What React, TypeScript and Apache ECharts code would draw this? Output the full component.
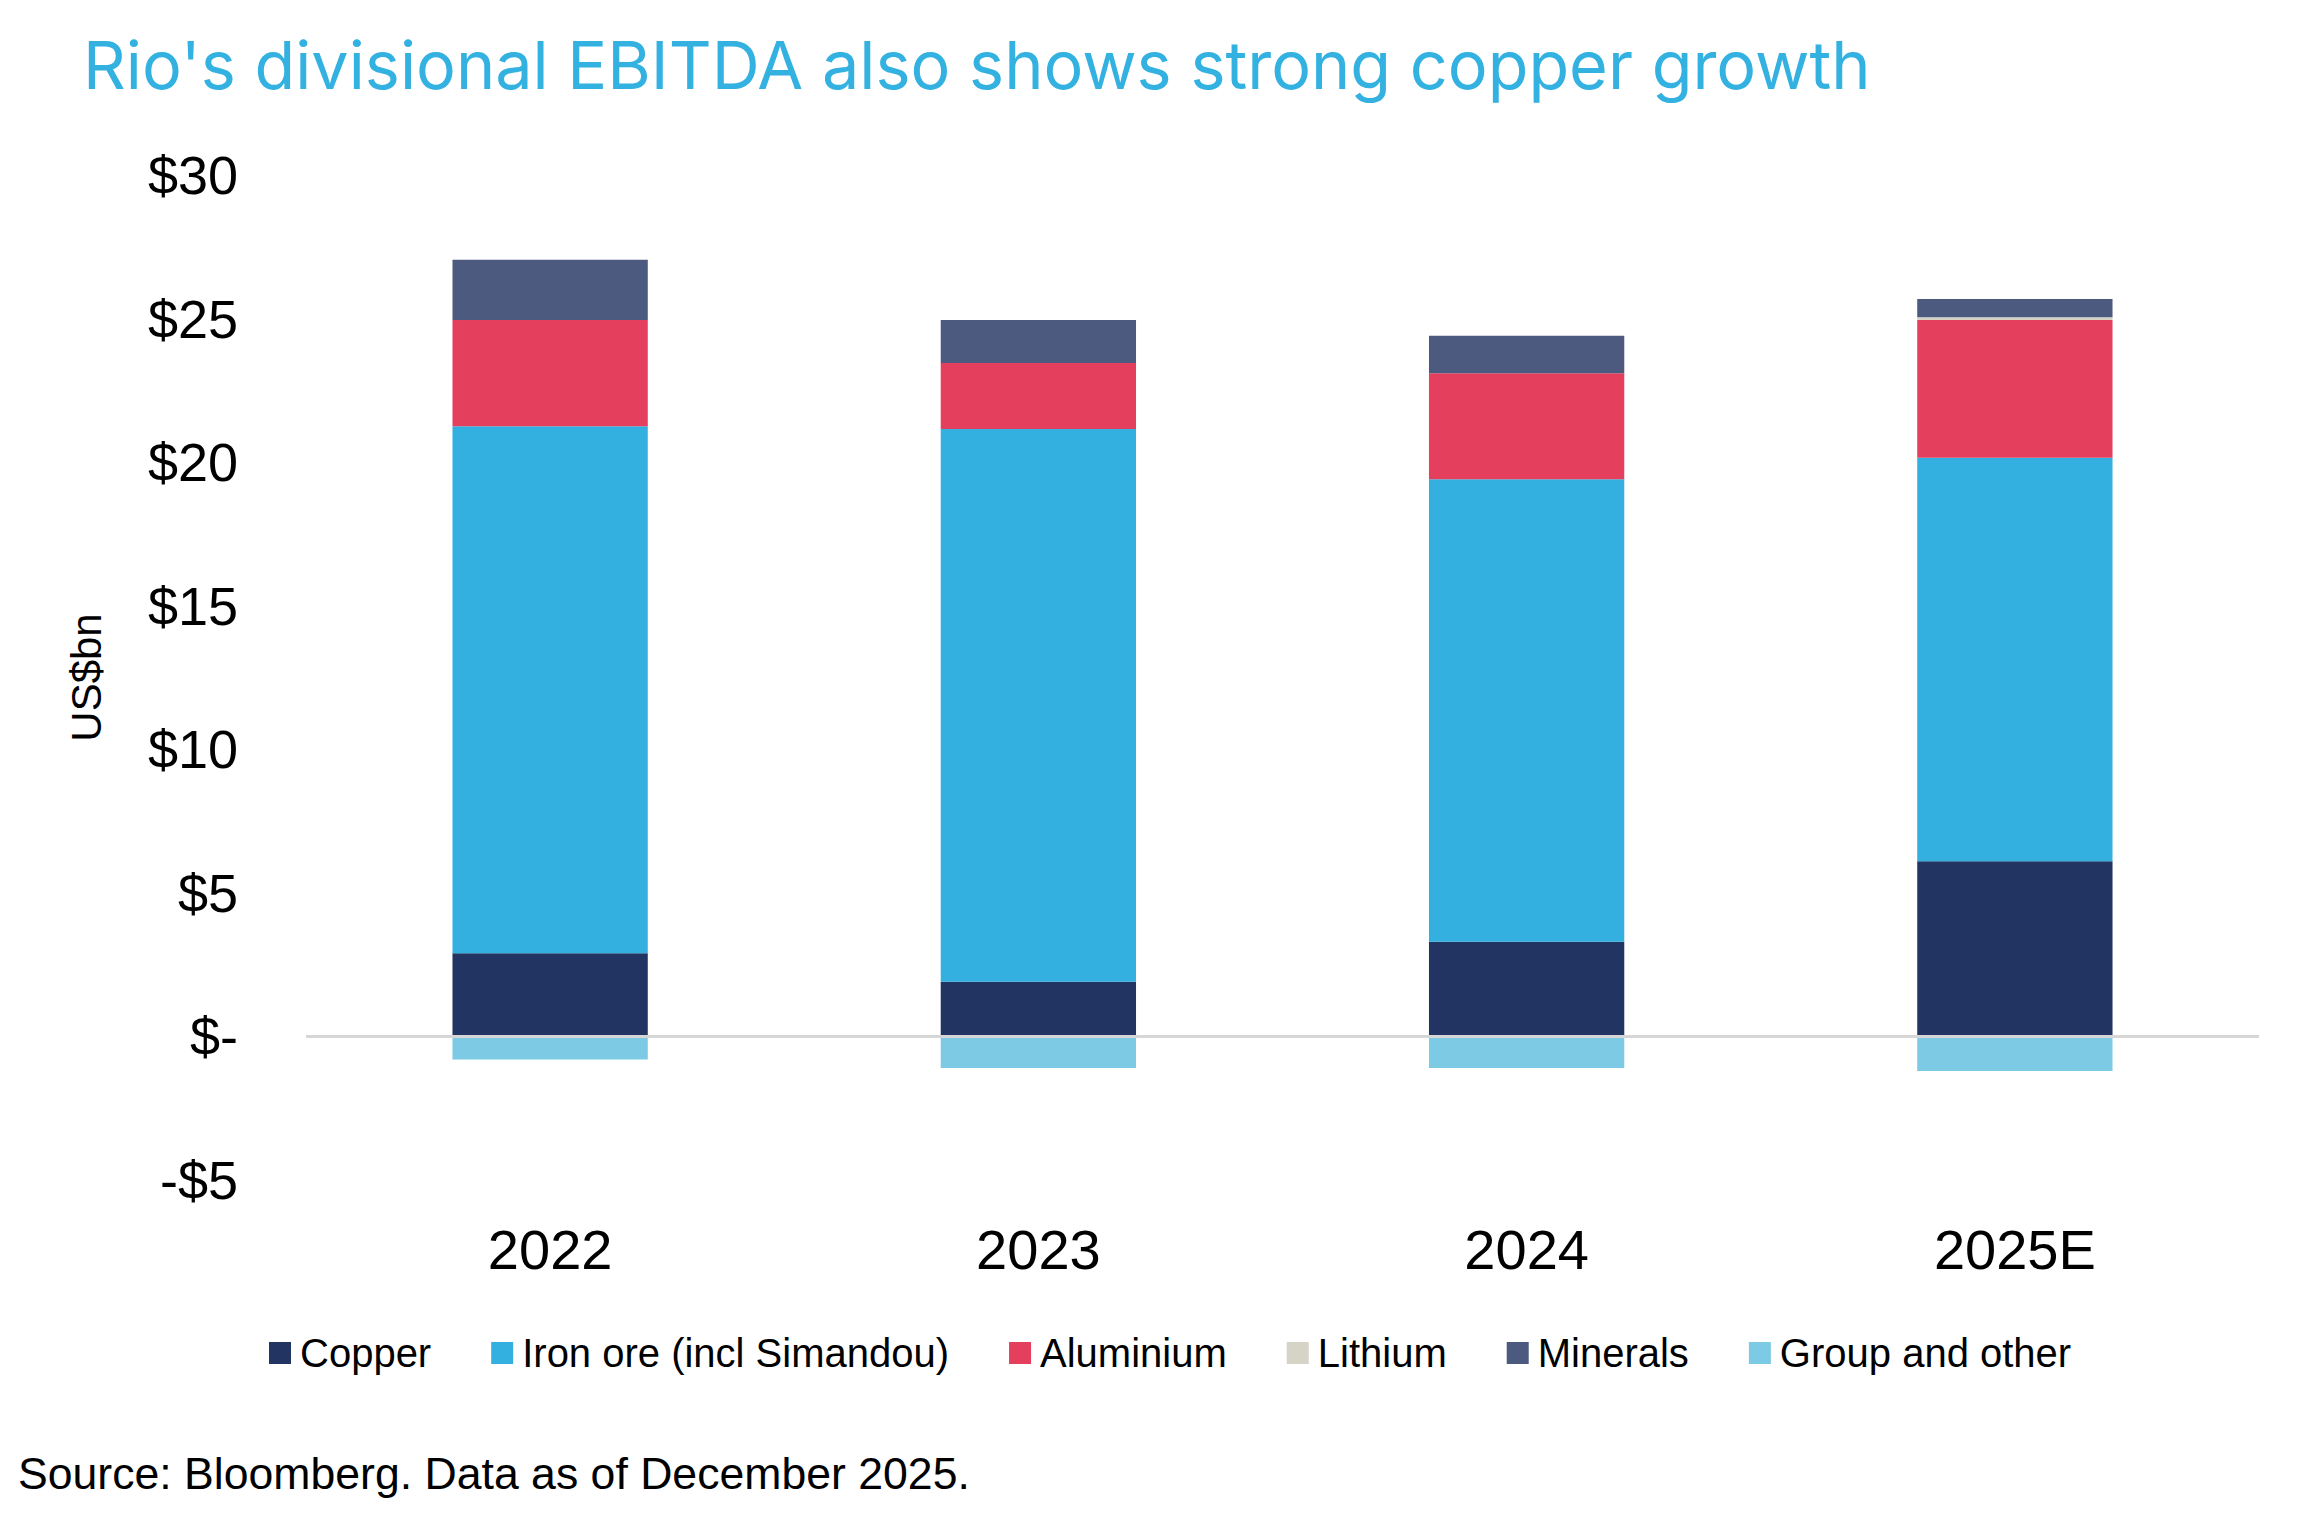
import React, { useRef, useEffect } from 'react'
import * as echarts from 'echarts'

// 年份
const years = ['2022', '2023', '2024', '2025E']

// 各业务 EBITDA (US$bn)
const copper = [2.9, 1.9, 3.3, 6.1]
const ironOre = [18.35, 19.25, 16.1, 14.05]
const aluminium = [3.7, 2.3, 3.7, 4.8]
const lithium = [0, 0, 0, 0.1]
const minerals = [2.1, 1.5, 1.3, 0.63]
const groupOther = [-0.8, -1.1, -1.1, -1.2]

const seriesNames = ['Copper', 'Iron ore (incl Simandou)', 'Aluminium', 'Lithium', 'Minerals', 'Group and other']
const seriesColors = ['#223462', '#33b0e0', '#e43f5d', '#d6d3c7', '#4b5a7e', '#7dcae4']
const seriesData = [copper, ironOre, aluminium, lithium, minerals, groupOther]

const FONT = '"Liberation Sans", Arial, sans-serif'

const App: React.FC = () => {
  const chartRef = useRef<HTMLDivElement>(null)

  useEffect(() => {
    if (!chartRef.current) return
    const chart = echarts.init(chartRef.current, undefined, { renderer: 'svg' })

    const series: any[] = seriesNames.map((name, i) => ({
      name,
      type: 'bar',
      stack: 'total',
      barWidth: '40%',
      data: seriesData[i],
      itemStyle: { color: seriesColors[i] },
    }))

    // 零线
    series[0].markLine = {
      silent: true,
      symbol: 'none',
      label: { show: false },
      lineStyle: { color: '#d6d6d6', width: 3, type: 'solid' },
      data: [{ yAxis: 0 }],
    }

    chart.setOption({
      animation: false,
      backgroundColor: '#ffffff',
      textStyle: { fontFamily: FONT },
      title: {
        text: "Rio's divisional EBITDA also shows strong copper growth",
        left: 78,
        top: 26,
        textStyle: {
          fontFamily: 'Inter, sans-serif',
          fontSize: 66.5,
          fontWeight: 'normal',
          color: '#33b1e1',
        },
      },
      legend: {
        data: seriesNames,
        left: 264,
        top: 1328,
        icon: 'rect',
        itemWidth: 22,
        itemHeight: 22,
        itemGap: 60,
        textStyle: {
          fontFamily: FONT,
          fontSize: 40,
          color: '#000000',
          padding: [0, 0, 0, 4],
        },
      },
      grid: {
        left: 306,
        right: 51,
        top: 175,
        bottom: 333,
      },
      xAxis: {
        type: 'category',
        data: years,
        axisLine: { show: false, onZero: false },
        axisTick: { show: false },
        axisLabel: {
          fontFamily: FONT,
          fontSize: 56,
          color: '#000000',
          margin: 41,
        },
        splitLine: { show: false },
      },
      yAxis: {
        type: 'value',
        min: -5,
        max: 30,
        interval: 5,
        name: 'US$bn',
        nameLocation: 'middle',
        nameRotate: 90,
        nameGap: 199,
        nameTextStyle: {
          fontFamily: FONT,
          fontSize: 42,
          color: '#000000',
        },
        axisLine: { show: false },
        axisTick: { show: false },
        splitLine: { show: false },
        axisLabel: {
          fontFamily: FONT,
          fontSize: 54,
          color: '#000000',
          margin: 68,
          formatter: (v: number) => (v === 0 ? '$-' : v < 0 ? `-$${Math.abs(v)}` : `$${v}`),
        },
      },
      graphic: [
        {
          type: 'text',
          left: 18,
          top: 1451,
          style: {
            text: 'Source: Bloomberg. Data as of December 2025.',
            fontFamily: FONT,
            fontSize: 44.6,
            fill: '#000000',
          },
        },
      ],
      series,
    })

    return () => {
      chart.dispose()
    }
  }, [])

  return (
    <div
      ref={chartRef}
      style={{
        position: 'fixed',
        left: 0,
        top: 0,
        width: '2310px',
        height: '1513px',
      }}
    />
  )
}

export default App
